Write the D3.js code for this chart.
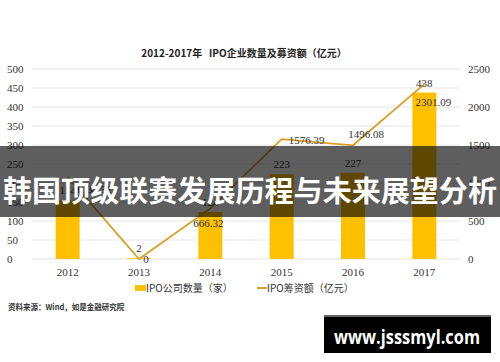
<!DOCTYPE html>
<html><head><meta charset="utf-8">
<script src="https://cdn.jsdelivr.net/npm/d3@7"></script>
<style>
html,body{margin:0;padding:0;background:#fff;}
svg{display:block;}
</style></head>
<body>
<script>
const years = ["2012","2013","2014","2015","2016","2017"];
const ipoCount = [154, 2, 124, 223, 227, 438];
const ipoAmount = [1080, 0, 666.32, 1576.39, 1496.08, 2301.09];
const amountLabels = ["1034.32","0","666.32","1576.39","1496.08","2301.09"];
const leftTicks = [0,50,100,150,200,250,300,350,400,450,500];
const rightTicks = [0,500,1000,1500,2000,2500];
const title = "2012-2017年   IPO企业数量及募资额（亿元）";
const legendNames = ["IPO公司数量（家）","IPO筹资额（亿元）"];
const source = "资料来源：Wind，如是金融研究院";
const bannerText = "韩国顶级联赛发展历程与未来展望分析";
const watermark = "www.jsssmyl.com";

const W = 500, H = 362;
const svg = d3.select("body").append("svg").attr("width", W).attr("height", H);
const serif = "'Liberation Serif', 'Noto Sans CJK SC', serif";
const cjk = "'Noto Sans CJK SC', 'Liberation Serif', serif";

const x = d3.scaleBand().domain(years).range([32, 460]).padding(0);
const yL = d3.scaleLinear().domain([0, 500]).range([259, 69]);
const yR = d3.scaleLinear().domain([0, 2500]).range([259, 69]);
const cx = d => x(d) + x.bandwidth() / 2;
const barW = 24;

// title
svg.append("text").attr("x", 244).attr("y", 57).attr("text-anchor", "middle")
  .attr("font-family", cjk).attr("font-size", 10).attr("font-weight", "bold").attr("fill", "#222")
  .attr("xml:space", "preserve").style("white-space", "pre").text(title);

// gridlines
svg.append("g").selectAll("line").data(leftTicks).join("line")
  .attr("x1", 32).attr("x2", 460).attr("y1", d => yL(d)).attr("y2", d => yL(d))
  .attr("stroke", "#e6e6e6").attr("stroke-width", 1);

// left axis labels
const axL = svg.append("g").attr("transform", "translate(7,0)")
  .call(d3.axisLeft(yL).tickValues(leftTicks).tickFormat(d3.format("d")).tickSize(0).tickPadding(0));
axL.select(".domain").remove();
axL.selectAll("text").attr("text-anchor", "start").attr("x", 0)
  .attr("font-family", serif).attr("font-size", 11).attr("fill", "#333");

// right axis labels
const axR = svg.append("g").attr("transform", "translate(468,0)")
  .call(d3.axisRight(yR).tickValues(rightTicks).tickFormat(d3.format("d")).tickSize(0).tickPadding(0));
axR.select(".domain").remove();
axR.selectAll("text").attr("x", 0)
  .attr("font-family", serif).attr("font-size", 11).attr("fill", "#333");

// x axis labels
const axX = svg.append("g").attr("transform", "translate(0,259)")
  .call(d3.axisBottom(x).tickSize(0).tickPadding(9));
axX.select(".domain").remove();
axX.selectAll("text").attr("font-family", serif).attr("font-size", 11).attr("fill", "#333");

// bars
svg.append("g").selectAll("rect").data(years).join("rect")
  .attr("x", (d) => cx(d) - barW / 2).attr("width", barW)
  .attr("y", (d, i) => yL(ipoCount[i])).attr("height", (d, i) => yL(0) - yL(ipoCount[i]))
  .attr("fill", "#FFC000");

// line
const line = d3.line().x((d, i) => cx(years[i])).y(d => yR(d));
svg.append("path").datum(ipoAmount).attr("d", line)
  .attr("fill", "none").attr("stroke", "#D9A024").attr("stroke-width", 1.8);

// count labels
svg.append("g").selectAll("text").data(years).join("text")
  .attr("x", d => cx(d)).attr("y", (d, i) => yL(ipoCount[i]) - 6)
  .attr("text-anchor", "middle").attr("font-family", serif).attr("font-size", 11).attr("fill", "#333")
  .text((d, i) => ipoCount[i]);

// amount labels (offsets relative to the point)
const offs = [[26,16],[7,4],[-2,19],[25,5],[13,-7],[9,22]];
svg.append("g").selectAll("text").data(years).join("text")
  .attr("x", (d, i) => cx(d) + offs[i][0]).attr("y", (d, i) => yR(ipoAmount[i]) + offs[i][1])
  .attr("text-anchor", "middle").attr("font-family", serif).attr("font-size", 11).attr("fill", "#333")
  .text((d, i) => amountLabels[i]);

// legend
const lg = svg.append("g");
lg.append("rect").attr("x", 135).attr("y", 285).attr("width", 11).attr("height", 6).attr("fill", "#FFC000");
lg.append("text").attr("x", 146).attr("y", 292).attr("font-family", cjk).attr("font-size", 10).attr("fill", "#333").text(legendNames[0]);
lg.append("line").attr("x1", 257).attr("x2", 267).attr("y1", 288).attr("y2", 288).attr("stroke", "#D9A024").attr("stroke-width", 2);
lg.append("text").attr("x", 267).attr("y", 292).attr("font-family", cjk).attr("font-size", 10).attr("fill", "#333").text(legendNames[1]);

// source
svg.append("text").attr("x", 8).attr("y", 310).attr("font-family", cjk).attr("font-size", 7.5)
  .attr("font-weight", "bold").attr("fill", "#333").text(source);

// banner overlay
svg.append("rect").attr("x", 0).attr("y", 146).attr("width", W).attr("height", 71).attr("fill", "rgba(0,0,0,0.63)");
svg.append("text").attr("x", W / 2).attr("y", 189).attr("text-anchor", "middle").attr("dominant-baseline", "central")
  .attr("font-family", cjk).attr("font-weight", "bold").attr("font-size", 29).attr("fill", "#fff")
  .attr("textLength", 494).attr("lengthAdjust", "spacingAndGlyphs").text(bannerText);

// watermark
svg.append("rect").attr("x", 324).attr("y", 315).attr("width", 167).attr("height", 38).attr("fill", "#000");
svg.append("rect").attr("x", 324).attr("y", 315).attr("width", 167).attr("height", 2).attr("fill", "#666");
svg.append("text").attr("x", 407).attr("y", 337).attr("text-anchor", "middle").attr("dominant-baseline", "central")
  .attr("font-family", "'Open Sans', 'DejaVu Sans', sans-serif").attr("font-weight", "bold").attr("font-size", 19)
  .attr("fill", "#fff").attr("textLength", 146).attr("lengthAdjust", "spacingAndGlyphs").text(watermark);
</script>
</body></html>
